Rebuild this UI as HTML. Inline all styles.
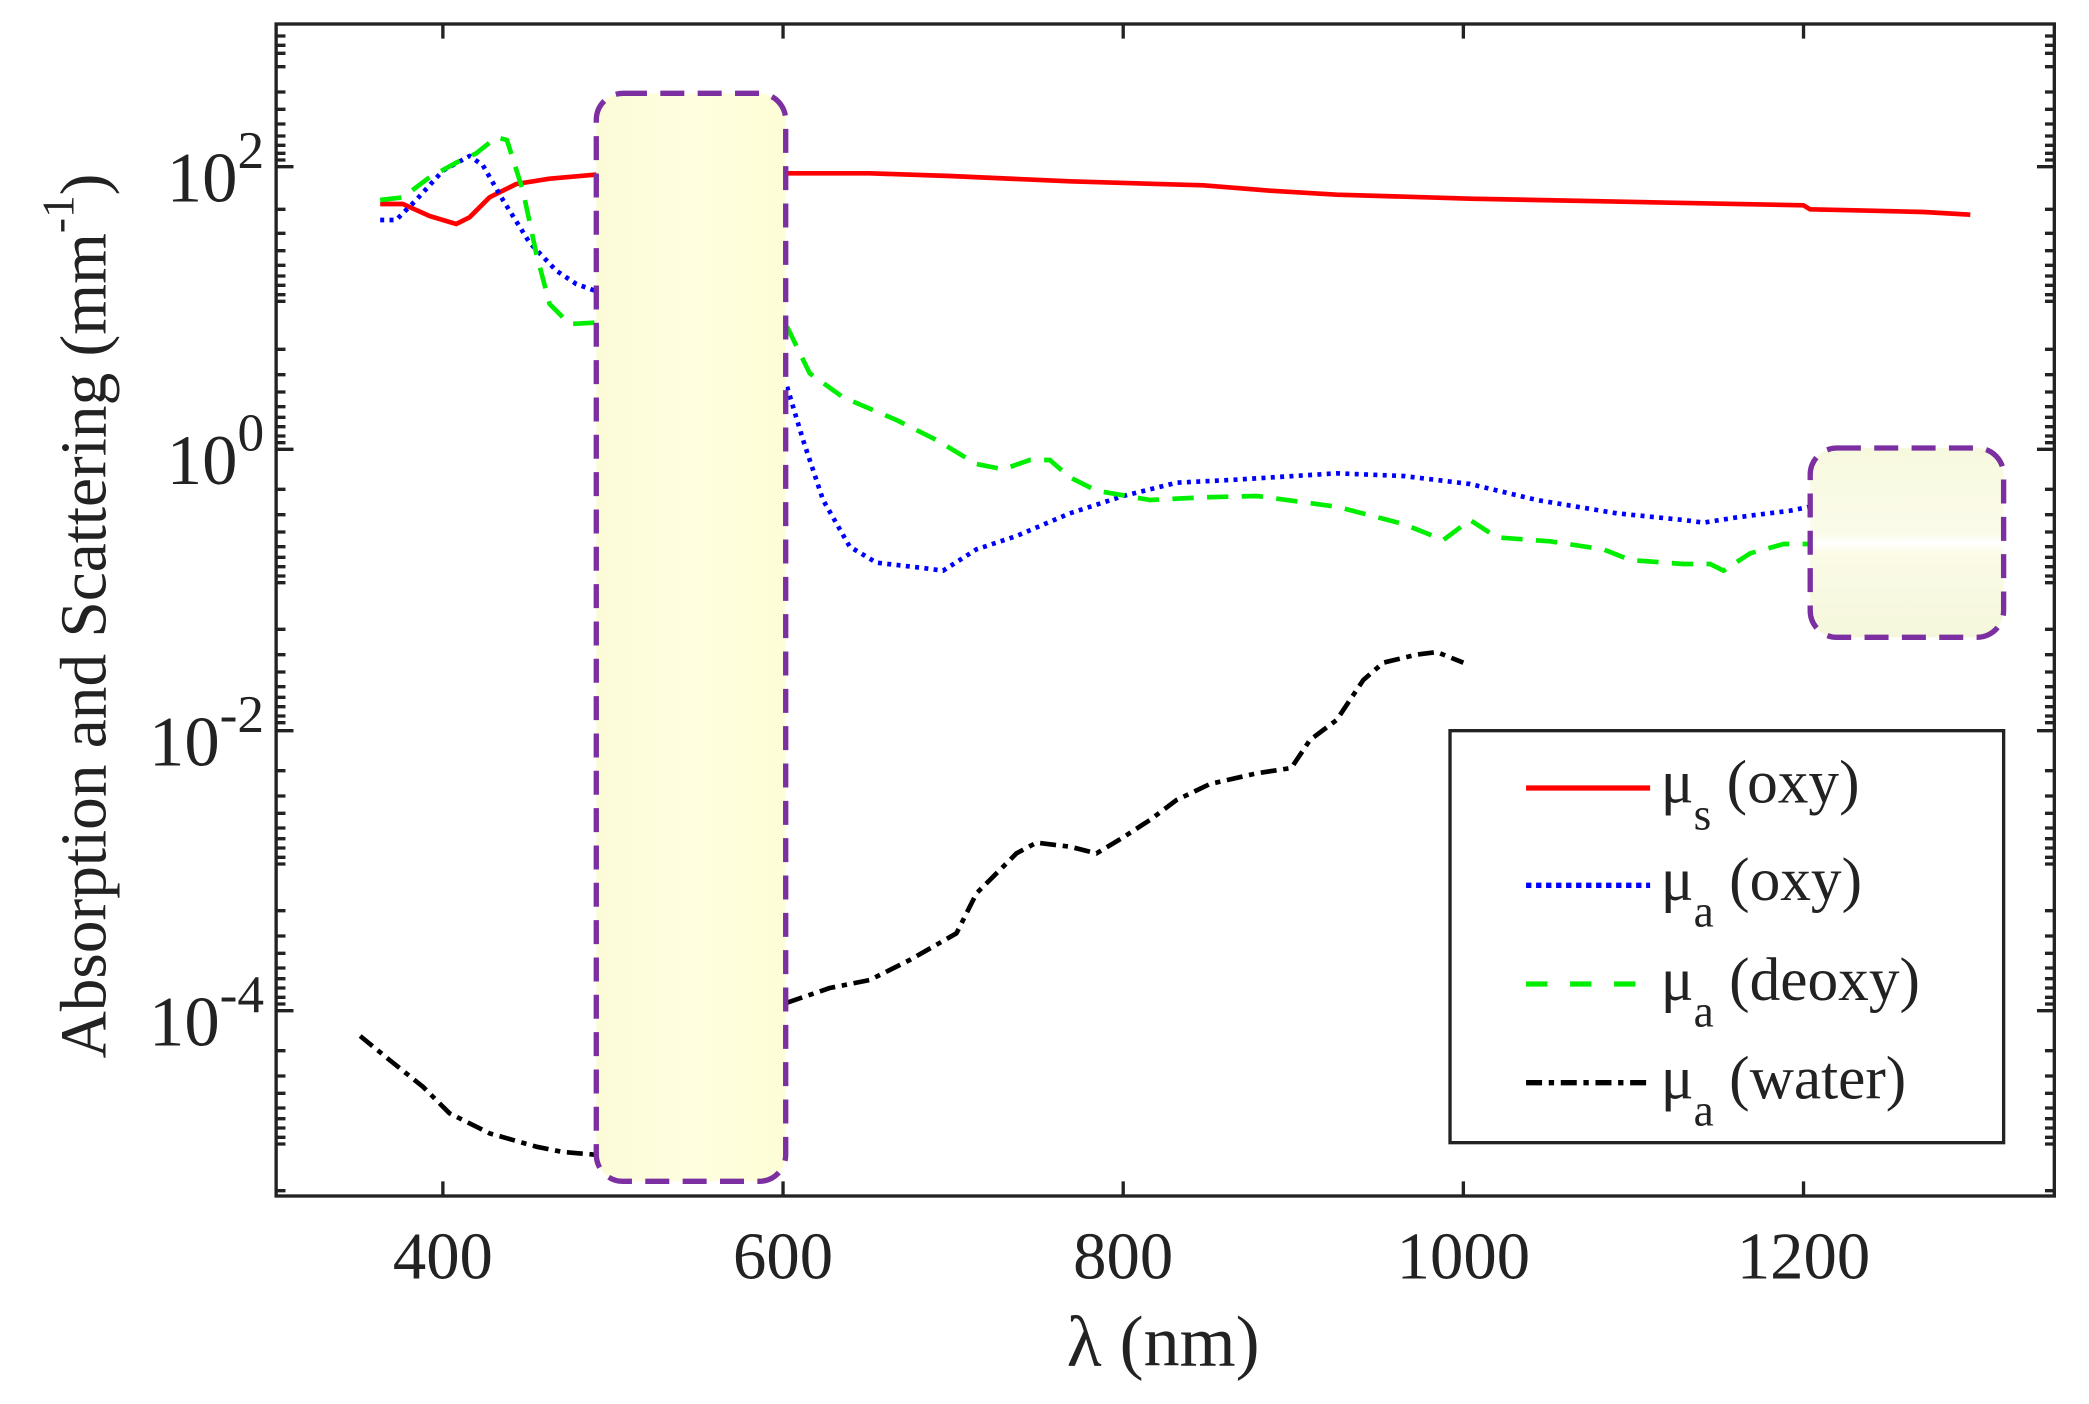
<!DOCTYPE html>
<html><head><meta charset="utf-8"><style>
html,body{margin:0;padding:0;background:#fff;}
svg{display:block;}
text{font-family:"Liberation Serif","DejaVu Serif",serif;fill:#222;}
</style></head><body>
<svg width="2089" height="1404" viewBox="-2 0 1566 1053" preserveAspectRatio="none" xmlns="http://www.w3.org/2000/svg">
<defs>
<linearGradient id="g1" x1="0" y1="0" x2="1" y2="0"><stop offset="0" stop-color="#fbfbd8"/><stop offset="0.5" stop-color="#ffffe0"/><stop offset="1" stop-color="#fdfdd6"/></linearGradient>
<linearGradient id="g2" x1="0" y1="0" x2="0" y2="1"><stop offset="0" stop-color="#f7f9de"/><stop offset="0.45" stop-color="#fbfbea"/><stop offset="0.5" stop-color="#ffffff"/><stop offset="0.56" stop-color="#fbfbe6"/><stop offset="1" stop-color="#f5f7dc"/></linearGradient>
</defs>
<g id="ticks" stroke="#222" stroke-width="2.5">
<path d="M330 897v-11M585 897v-11M840 897v-11M1095 897v-11M1350 897v-11M330 18v11M585 18v11M840 18v11M1095 18v11M1350 18v11"/>
<path d="M205 125h13M205 337h13M205 548h13M205 758h13M1538 125h-13M1538 337h-13M1538 548h-13M1538 758h-13"/>
<path id="minor" d="
M205 50h7M205 69h7M205 82h7M205 93h7M205 102h7M205 109h7M205 115h7M205 120h7
M205 157h7M205 175h7M205 188h7M205 199h7M205 207h7M205 214h7M205 221h7M205 226h7
M205 262h7M205 281h7M205 294h7M205 305h7M205 313h7M205 320h7M205 327h7M205 332h7
M205 367h7M205 386h7M205 399h7M205 410h7M205 418h7M205 425h7M205 432h7M205 437h7
M205 472h7M205 491h7M205 504h7M205 515h7M205 523h7M205 530h7M205 537h7M205 542h7
M205 578h7M205 597h7M205 610h7M205 621h7M205 629h7M205 636h7M205 643h7M205 648h7
M205 683h7M205 702h7M205 715h7M205 726h7M205 734h7M205 741h7M205 748h7M205 753h7
M205 788h7M205 807h7M205 820h7M205 831h7M205 839h7M205 846h7M205 853h7M205 858h7
M205 893h7
M205 27h7M205 34h7M205 40h7"/>
<use href="#minor" transform="translate(1743 0) scale(-1 1)"/>
</g>
<rect x="205" y="18" width="1333" height="879" fill="none" stroke="#222" stroke-width="2.5"/>
<g fill="none" stroke-width="3.5" stroke-linejoin="round">
<polyline stroke="#ff0000" points="283,153 300,153 320,162 340,168 350,163 365,148 385,138 410,134 444,131 590,130 650,130 710,132 800,136 900,139 950,143 1000,146 1100,149 1200,151 1350,154 1355,157 1400,158 1440,159 1475,161"/>
<polyline stroke="#0000ff" stroke-dasharray="3,4" points="283,165 295,165 310,150 330,128 350,117 360,124 375,150 395,182 415,203 430,213 444,218"/>
<polyline stroke="#0000ff" stroke-dasharray="3,4" points="588,290 600,330 615,375 635,410 655,422 690,426 705,428 730,412 760,402 800,385 840,372 880,362 920,360 1000,355 1050,357 1100,363 1150,375 1210,385 1260,390 1275,392 1300,388 1340,383 1355,380"/>
<polyline stroke="#00ee00" stroke-dasharray="16,10" points="283,150 300,148 320,133 340,122 355,115 370,103 378,105 390,143 400,190 410,228 425,243 444,242"/>
<polyline stroke="#00ee00" stroke-dasharray="16,10" points="588,245 605,280 630,298 670,315 700,330 730,348 750,352 770,345 785,345 800,358 820,368 860,375 900,373 940,372 1000,380 1050,393 1080,405 1100,390 1120,403 1160,406 1200,412 1220,420 1260,423 1280,423 1290,428 1310,415 1335,408 1355,408"/>
<polyline stroke="#000" stroke-dasharray="12,5,4,5" points="268,777 290,795 315,815 335,835 365,850 400,860 420,864 444,866"/>
<polyline stroke="#000" stroke-dasharray="12,5,4,5" points="588,752 620,741 650,735 680,720 715,700 730,670 760,640 775,632 800,635 820,640 840,628 860,615 880,600 905,588 940,580 966,576 980,555 1000,540 1020,510 1035,497 1060,491 1075,489 1095,497"/>
</g>
<rect x="445" y="70" width="142" height="816" rx="20" fill="url(#g1)" stroke="#7b2fa0" stroke-width="4" stroke-dasharray="18,10"/>
<rect x="1355" y="336" width="145" height="142" rx="20" fill="url(#g2)" stroke="#7b2fa0" stroke-width="4" stroke-dasharray="18,10"/>
<rect x="1085" y="548" width="415" height="309" fill="#fff" stroke="#222" stroke-width="2.5"/>
<g stroke-width="4" fill="none">
<line x1="1142" y1="591" x2="1235" y2="591" stroke="#ff0000"/>
<line x1="1142" y1="664" x2="1235" y2="664" stroke="#0000ff" stroke-dasharray="4,3.5"/>
<line x1="1142" y1="738" x2="1225" y2="738" stroke="#00ee00" stroke-dasharray="16,17"/>
<line x1="1142" y1="812" x2="1235" y2="812" stroke="#000" stroke-dasharray="12,5,4,5"/>
</g>
<g font-size="46">
<text x="1243" y="602">μ<tspan font-size="34" dy="20">s</tspan><tspan dy="-20"> (oxy)</tspan></text>
<text x="1243" y="675">μ<tspan font-size="34" dy="20">a</tspan><tspan dy="-20"> (oxy)</tspan></text>
<text x="1243" y="750">μ<tspan font-size="34" dy="20">a</tspan><tspan dy="-20"> (deoxy)</tspan></text>
<text x="1243" y="824">μ<tspan font-size="34" dy="20">a</tspan><tspan dy="-20"> (water)</tspan></text>
</g>
<g font-size="50" text-anchor="middle">
<text x="330" y="959">400</text><text x="585" y="959">600</text><text x="840" y="959">800</text><text x="1095" y="959">1000</text><text x="1350" y="959">1200</text>
</g>
<g font-size="53" text-anchor="end">
<text x="196" y="151">10<tspan font-size="40" dy="-25">2</tspan></text>
<text x="196" y="363">10<tspan font-size="40" dy="-25">0</tspan></text>
<text x="196" y="574">10<tspan font-size="40" dy="-25">-2</tspan></text>
<text x="196" y="784">10<tspan font-size="40" dy="-25">-4</tspan></text>
</g>
<text x="870" y="1024" font-size="54" text-anchor="middle">λ (nm)</text>
<text transform="translate(77 462) rotate(-90)" font-size="49" text-anchor="middle">Absorption and Scattering (mm<tspan font-size="34" dy="-24">-1</tspan><tspan dy="24">)</tspan></text>
</svg>
</body></html>
